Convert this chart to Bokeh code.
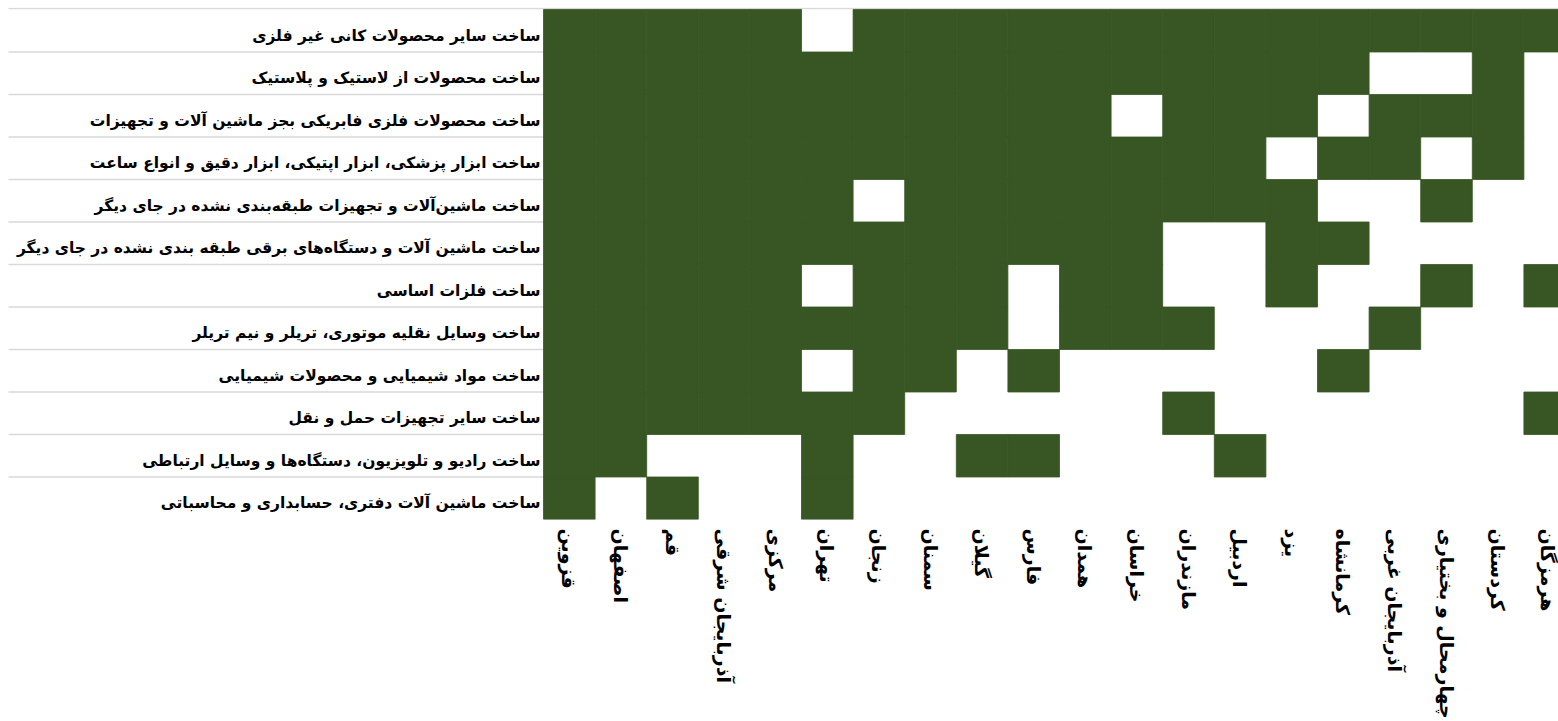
import math
from bokeh.plotting import figure
from bokeh.models import Range1d, FixedTicker, ColumnDataSource
from bokeh.core.properties import value
from bokeh.embed import file_html
from bokeh.resources import INLINE

# ---- data ----
industries = [
    "ساخت سایر محصولات کانی غیر فلزی",
    "ساخت محصولات از لاستیک و پلاستیک",
    "ساخت محصولات فلزی فابریکی بجز ماشین آلات و تجهیزات",
    "ساخت ابزار پزشکی، ابزار اپتیکی، ابزار دقیق و انواع ساعت",
    "ساخت ماشین‌آلات و تجهیزات طبقه‌بندی نشده در جای دیگر",
    "ساخت ماشین آلات و دستگاه‌های برقی طبقه بندی نشده در جای دیگر",
    "ساخت فلزات اساسی",
    "ساخت وسایل نقلیه موتوری، تریلر و نیم تریلر",
    "ساخت مواد شیمیایی و محصولات شیمیایی",
    "ساخت سایر تجهیزات حمل و نقل",
    "ساخت رادیو و تلویزیون، دستگاه‌ها و وسایل ارتباطی",
    "ساخت ماشین آلات دفتری، حسابداری و محاسباتی",
]

provinces = [
    "قزوین", "اصفهان", "قم", "آذربایجان شرقی", "مرکزی", "تهران", "زنجان",
    "سمنان", "گیلان", "فارس", "همدان", "خراسان", "مازندران", "اردبیل", "یزد",
    "کرمانشاه", "آذربایجان غربی", "چهارمحال و بختیاری", "کردستان", "هرمزگان",
]

presence = [
    [1, 1, 1, 1, 1, 0, 1, 1, 1, 1, 1, 1, 1, 1, 1, 1, 1, 1, 1, 1],
    [1, 1, 1, 1, 1, 1, 1, 1, 1, 1, 1, 1, 1, 1, 1, 1, 0, 0, 1, 0],
    [1, 1, 1, 1, 1, 1, 1, 1, 1, 1, 1, 0, 1, 1, 1, 0, 1, 1, 1, 0],
    [1, 1, 1, 1, 1, 1, 1, 1, 1, 1, 1, 1, 1, 1, 0, 1, 1, 0, 1, 0],
    [1, 1, 1, 1, 1, 1, 0, 1, 1, 1, 1, 1, 1, 1, 1, 0, 0, 1, 0, 0],
    [1, 1, 1, 1, 1, 1, 1, 1, 1, 1, 1, 1, 0, 0, 1, 1, 0, 0, 0, 0],
    [1, 1, 1, 1, 1, 0, 1, 1, 1, 0, 1, 1, 0, 0, 1, 0, 0, 1, 0, 1],
    [1, 1, 1, 1, 1, 1, 1, 1, 1, 0, 1, 1, 1, 0, 0, 0, 1, 0, 0, 0],
    [1, 1, 1, 1, 1, 0, 1, 1, 0, 1, 0, 0, 0, 0, 0, 1, 0, 0, 0, 0],
    [1, 1, 1, 1, 1, 1, 1, 0, 0, 0, 0, 0, 1, 0, 0, 0, 0, 0, 0, 1],
    [1, 1, 0, 0, 0, 1, 0, 0, 1, 1, 0, 0, 0, 1, 0, 0, 0, 0, 0, 0],
    [1, 0, 1, 0, 0, 1, 0, 0, 0, 0, 0, 0, 0, 0, 0, 0, 0, 0, 0, 0],
]

# ---- layout / style ----
GREEN = "#375623"
SEP = "#d9d9d9"
FONT = "DejaVu Sans"
W, H = 1558, 721
LABEL_PX = 543.0      # grid left edge
LINE_LEFT_PX = 8.0    # separators start
COL_PX = 51.6
TOP_BORDER = 7
GRID_TOP_PX = 9.0
GRID_BOTTOM_PX = 520.0
nrows, ncols = len(industries), len(provinces)
row_px = (GRID_BOTTOM_PX - GRID_TOP_PX) / nrows

x_start = -0.5 - LABEL_PX / COL_PX
x_end = -0.5 + (W - LABEL_PX) / COL_PX
y_end = nrows + (GRID_TOP_PX - TOP_BORDER) / row_px

p = figure(width=W, height=H, output_backend="svg", toolbar_location=None,
           x_range=Range1d(x_start, x_end), y_range=Range1d(0, y_end),
           min_border_left=0, min_border_right=0, min_border_top=TOP_BORDER,
           min_border_bottom=int(H - GRID_BOTTOM_PX))
p.outline_line_color = None
p.grid.visible = False
p.yaxis.visible = False
p.background_fill_color = "white"
p.border_fill_color = "white"

# separator lines in label area (row tops); the first one spans the grid too
line_x0 = x_start + LINE_LEFT_PX / COL_PX
seg_y = [nrows - i for i in range(nrows)]
seg_y[0] = nrows + 1.0 / row_px
seg_x1 = [x_end if i == 0 else -0.5 for i in range(nrows)]
p.segment(x0=[line_x0] * nrows, y0=seg_y, x1=seg_x1, y1=seg_y,
          line_color=SEP, line_width=1.5)

# cells
cx, cy = [], []
for r in range(nrows):
    for c in range(ncols):
        if presence[r][c]:
            cx.append(c)
            cy.append(nrows - r - 0.5)
src = ColumnDataSource(dict(x=cx, y=cy))
p.rect(x="x", y="y", width=1, height=1, source=src,
       fill_color=GREEN, line_color=GREEN, line_width=0.8)

# row labels
row_y = [nrows - r - 0.5 - 0.12 for r in range(nrows)]
p.text(x=[-0.5 - 3 / COL_PX] * nrows, y=row_y, text=industries,
       text_align="right", text_baseline="middle",
       text_font=value(FONT), text_font_size="15.5px", text_font_style="bold",
       text_color="black")

# province axis
ax = p.xaxis[0]
ax.ticker = FixedTicker(ticks=list(range(ncols)))
ax.major_label_overrides = {i: name for i, name in enumerate(provinces)}
ax.major_label_orientation = -math.pi / 2
ax.axis_line_color = None
ax.major_tick_line_color = None
ax.minor_tick_line_color = None
ax.major_tick_in = 0
ax.major_tick_out = 0
ax.major_label_standoff = 9
ax.major_label_text_font = FONT
ax.major_label_text_font_size = "19px"
ax.major_label_text_font_style = "bold"
ax.major_label_text_color = "black"

open("out.html", "w").write(file_html(p, INLINE))
